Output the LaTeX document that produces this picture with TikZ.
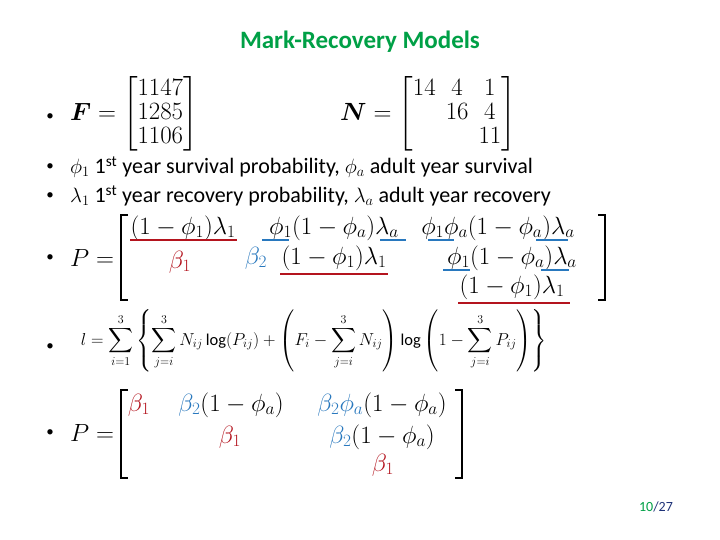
\documentclass[tikz,border=0pt]{standalone}
\usepackage{amsmath,bm}
\usepackage{fontspec}
\setmainfont{Carlito}
\definecolor{ttl}{RGB}{0,160,70}
\definecolor{rd}{RGB}{180,20,30}
\definecolor{bl}{RGB}{40,120,190}
\definecolor{pg}{RGB}{30,50,120}
\begin{document}
\begin{tikzpicture}[x=1pt,y=-1pt,
  txt/.style={anchor=west,inner sep=0pt,font=\fontsize{22}{24}\selectfont},
  ent/.style={inner sep=0pt,font=\fontsize{24}{26}\selectfont},
  bul/.style={inner sep=0pt,font=\fontsize{15}{18}\selectfont},
  brk/.style={line width=1.5pt},
  ulr/.style={rd,line width=2.2pt},
  ulb/.style={bl,line width=2.2pt}]
\useasboundingbox (0,0) rectangle (720,540);
\fill[white] (0,0) rectangle (720,540);
\node[inner sep=0pt,font=\fontsize{25}{28}\selectfont\bfseries,text=ttl] (title) at (360,42) {Mark-Recovery Models};
% bullets
\foreach \y/\n in {117/b1,167/b2,196/b3,258/b4,347/b5,433/b6}
  \node[bul] (\n) at (50,\y) {•};
% F and N
\node[txt,font=\fontsize{25}{26}\selectfont] (F) at (70,114) {$\bm F=\left[\begin{matrix}1147\\[-2pt]1285\\[-2pt]1106\end{matrix}\right]$};
\node[txt,font=\fontsize{25}{26}\selectfont] (N) at (340,114) {$\bm N=\left[\begin{matrix}14&4&1\\[-2pt]&16&4\\[-2pt]&&11\end{matrix}\right]$};
\node[txt] (l2) at (70,167) {$\phi_1$ 1\textsuperscript{st} year survival probability, $\phi_a$ adult year survival};
\node[txt] (l3) at (70,196) {$\lambda_1$ 1\textsuperscript{st} year recovery probability, $\lambda_a$ adult year recovery};
% P matrix 1
\node[txt,font=\fontsize{24}{26}\selectfont] (P1) at (70,258) {$P=$};
\draw[brk] (128,215) -- (121,215) -- (121,300) -- (128,300);
\draw[brk] (598,215) -- (605,215) -- (605,300) -- (598,300);
\node[ent] (a11) at (183,228) {$(1-\phi_1)\lambda_1$};
\node[ent] (a12) at (334,228) {$\phi_1(1-\phi_a)\lambda_a$};
\node[ent] (a13) at (498,228) {$\phi_1\phi_a(1-\phi_a)\lambda_a$};
\node[ent,text=rd] (b21) at (180,262) {$\beta_1$};
\node[ent,text=bl] (b22) at (256,258) {$\beta_2$};
\node[ent] (a22) at (334,258) {$(1-\phi_1)\lambda_1$};
\node[ent] (a23) at (512,258) {$\phi_1(1-\phi_a)\lambda_a$};
\node[ent] (a33) at (512,287) {$(1-\phi_1)\lambda_1$};
\draw[ulr] (130,240) -- (237,240);
\draw[ulb] (262,240) -- (289,240);
\draw[ulb] (380,240) -- (406,240);
\draw[ulb] (428,240) -- (454,240);
\draw[ulb] (536,240) -- (568,240);
\draw[ulr] (280,274) -- (388,274);
\draw[ulb] (443,270) -- (470,270);
\draw[ulb] (541,270) -- (569,270);
\draw[ulr] (458,303) -- (570,303);
% likelihood
\node[inner sep=0pt,font=\fontsize{16.5}{18}\selectfont] (L) at (314,341) {$\displaystyle l=\sum_{i=1}^{3}\left\{\sum_{j=i}^{3}N_{ij}\log(P_{ij})+\left(F_i-\sum_{j=i}^{3}N_{ij}\right)\log\left(1-\sum_{j=i}^{3}P_{ij}\right)\right\}$};
% P matrix 2
\node[txt,font=\fontsize{24}{26}\selectfont] (P2) at (70,433) {$P=$};
\draw[brk] (128,390) -- (121,390) -- (121,478) -- (128,478);
\draw[brk] (455,390) -- (462,390) -- (462,478) -- (455,478);
\node[ent,text=rd] (c11) at (139,405) {$\beta_1$};
\node[ent] (c12) at (231,405) {$\textcolor{bl}{\beta_2}(1-\phi_a)$};
\node[ent] (c13) at (382,405) {$\textcolor{bl}{\beta_2\phi_a}(1-\phi_a)$};
\node[ent,text=rd] (c22) at (230,437) {$\beta_1$};
\node[ent] (c23) at (382,437) {$\textcolor{bl}{\beta_2}(1-\phi_a)$};
\node[ent,text=rd] (c33) at (383,465) {$\beta_1$};
\node[inner sep=0pt,font=\fontsize{14}{16}\selectfont] (pg) at (656,507) {\textcolor{ttl}{10}\textcolor{pg}{/27}};
\end{tikzpicture}
\end{document}
